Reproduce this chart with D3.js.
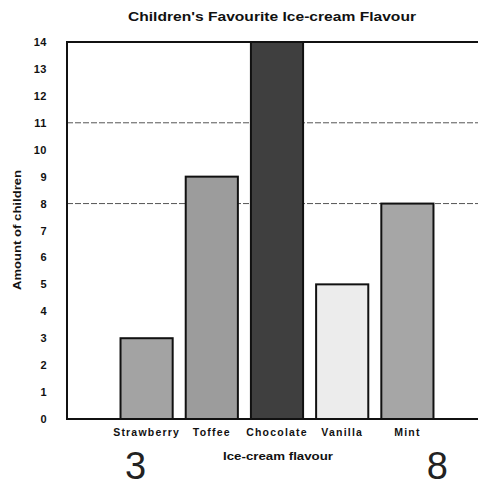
<!DOCTYPE html>
<html>
<head>
<meta charset="utf-8">
<script src="https://cdn.jsdelivr.net/npm/d3@7"></script>
<style>
  body { margin: 0; background: #fff; }
  text { font-family: "Liberation Sans", Arial, sans-serif; }
</style>
</head>
<body>
<div id="chart"></div>
<script>
// data
var flavours = ["Strawberry", "Toffee", "Chocolate", "Vanilla", "Mint"];
var children = [3, 9, 14, 5, 8];
var barFills = ["#a3a3a3", "#9c9c9c", "#3f3f3f", "#ececec", "#a6a6a6"];
var yTicks = d3.range(0, 15);
var gridValues = [8, 11];
var scribbles = [{ label: "3", flavour: "Strawberry" }, { label: "8", flavour: "Mint" }];

var svgWidth = 478;
var svgHeight = 486;

var plot = { left: 67, right: 480, top: 42, bottom: 419 };

var svg = d3.select("#chart")
  .append("svg")
  .attr("width", svgWidth)
  .attr("height", svgHeight);

var xScale = d3.scaleBand()
  .domain(flavours)
  .range([114, 440])
  .paddingInner(0.2)
  .paddingOuter(0.1);

var yScale = d3.scaleLinear()
  .domain([0, 14])
  .range([plot.bottom, plot.top]);

// title
svg.append("text")
  .attr("x", 272)
  .attr("y", 21)
  .attr("text-anchor", "middle")
  .attr("font-size", "13px")
  .attr("font-weight", "bold")
  .attr("fill", "#111")
  .attr("textLength", 288)
  .attr("lengthAdjust", "spacingAndGlyphs")
  .text("Children's Favourite Ice-cream Flavour");

// dashed grid lines
svg.append("g")
  .selectAll("line")
  .data(gridValues)
  .enter()
  .append("line")
  .attr("x1", plot.left)
  .attr("x2", plot.right)
  .attr("y1", d => yScale(d))
  .attr("y2", d => yScale(d))
  .attr("stroke", "#555")
  .attr("stroke-width", 1)
  .attr("stroke-dasharray", "6,2");

// bars
svg.append("g")
  .selectAll("rect")
  .data(flavours)
  .enter()
  .append("rect")
  .attr("x", d => xScale(d))
  .attr("y", (d, i) => yScale(children[i]))
  .attr("width", xScale.bandwidth())
  .attr("height", (d, i) => yScale(0) - yScale(children[i]))
  .attr("fill", (d, i) => barFills[i])
  .attr("stroke", "#111")
  .attr("stroke-width", 2);

// frame
svg.append("path")
  .attr("d", `M${plot.right},${plot.top}H${plot.left}V${plot.bottom}H${plot.right}`)
  .attr("fill", "none")
  .attr("stroke", "#111")
  .attr("stroke-width", 2);

// y axis
var leftAxis = d3.axisLeft(yScale)
  .tickValues(yTicks)
  .tickSize(0)
  .tickPadding(20)
  .tickFormat(d3.format("d"));

var yAxis = svg.append("g")
  .attr("transform", `translate(${plot.left}, 0)`)
  .call(leftAxis);

yAxis.select(".domain").remove();
yAxis.selectAll("text")
  .attr("font-family", "Liberation Sans, Arial, sans-serif")
  .attr("font-size", "11px")
  .attr("font-weight", "bold")
  .attr("letter-spacing", "0.5px")
  .attr("fill", "#111");

// x axis labels
var bottomAxis = d3.axisBottom(xScale)
  .tickSize(0)
  .tickPadding(10);

var xAxis = svg.append("g")
  .attr("transform", `translate(0, ${plot.bottom})`)
  .call(bottomAxis);

xAxis.select(".domain").remove();
xAxis.selectAll("text")
  .attr("font-family", "Liberation Sans, Arial, sans-serif")
  .attr("font-size", "10.5px")
  .attr("font-weight", "bold")
  .attr("letter-spacing", "1.2px")
  .attr("fill", "#111");

// axis titles
svg.append("text")
  .attr("x", 278)
  .attr("y", 460)
  .attr("text-anchor", "middle")
  .attr("font-size", "10.5px")
  .attr("font-weight", "bold")
  .attr("fill", "#111")
  .attr("textLength", 110)
  .attr("lengthAdjust", "spacingAndGlyphs")
  .text("Ice-cream flavour");

svg.append("text")
  .attr("transform", `translate(21, 230) rotate(-90)`)
  .attr("text-anchor", "middle")
  .attr("font-size", "11px")
  .attr("font-weight", "bold")
  .attr("fill", "#111")
  .attr("textLength", 120)
  .attr("lengthAdjust", "spacingAndGlyphs")
  .text("Amount of children");

// handwritten notes under the axis
svg.append("g")
  .selectAll("text")
  .data(scribbles)
  .enter()
  .append("text")
  .attr("x", d => xScale(d.flavour) + xScale.bandwidth() / 2 + (d.label === "3" ? -11 : 30))
  .attr("y", 479)
  .attr("text-anchor", "middle")
  .attr("font-family", "DejaVu Serif, serif")
  .attr("font-size", "38px")
  .attr("font-weight", "normal")
  .attr("fill", "#222")
  .text(d => d.label);
</script>
</body>
</html>
